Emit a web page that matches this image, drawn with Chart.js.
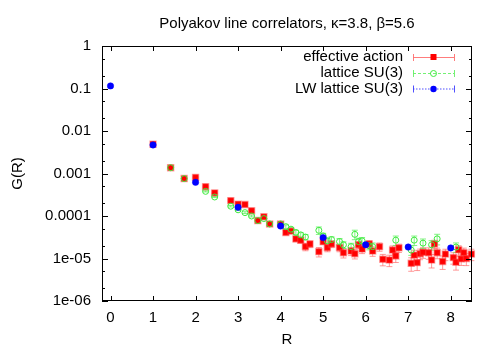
<!DOCTYPE html>
<html>
<head>
<meta charset="utf-8">
<script src="https://cdn.jsdelivr.net/npm/chart.js@4/dist/chart.umd.min.js"></script>
<style>
html, body { margin: 0; padding: 0; background: #fff; }
</style>
</head>
<body>
<canvas id="corrChart" width="500" height="350"></canvas>
<script>
// effective action (red squares), G(R) and relative errors
const effR = [1.0, 1.414, 1.732, 2.0, 2.236, 2.449, 2.828, 3.0, 3.162, 3.317, 3.464, 3.606, 3.742, 4.0,
  4.123, 4.243, 4.359, 4.472, 4.583, 4.69, 4.899, 5.0, 5.099, 5.196, 5.385, 5.477, 5.657, 5.745, 5.831, 5.916,
  6.083, 6.164, 6.325, 6.403, 6.557, 6.633, 6.708, 6.782, 7.071, 7.141, 7.211, 7.28, 7.348, 7.483, 7.55, 7.616,
  7.681, 7.81, 7.874, 8.062, 8.124, 8.185, 8.246, 8.307, 8.367, 8.485];
const effG = [4.9e-3, 1.37e-3, 7.6e-4, 8.1e-4, 4.9e-4, 3.5e-4, 2.3e-4, 1.9e-4, 1.86e-4, 1.33e-4, 7.8e-5, 9.6e-5, 6.5e-5, 6.5e-5,
  4.1e-5, 4.4e-5, 2.9e-5, 2.7e-5, 1.9e-5, 2.2e-5, 1.45e-5, 2.5e-5, 1.8e-5, 2.2e-5, 1.8e-5, 1.37e-5, 1.5e-5, 1.3e-5, 2.1e-5, 1.67e-5,
  2.2e-5, 1.5e-5, 1.9e-5, 9.6e-6, 9.2e-6, 1.58e-5, 1.15e-5, 1.78e-5, 7.7e-6, 1.2e-5, 8.0e-6, 1.3e-5, 1.4e-5, 1.37e-5, 9.2e-6, 2.2e-5,
  1.37e-5, 8.5e-6, 1.27e-5, 1.05e-5, 8.2e-6, 1.6e-5, 9.8e-6, 1.37e-5, 1.0e-5, 1.27e-5];
const effErr = [0.02, 0.02, 0.03, 0.03, 0.03, 0.04, 0.05, 0.05, 0.06, 0.06, 0.08, 0.08, 0.1, 0.1,
  0.12, 0.12, 0.15, 0.15, 0.2, 0.18, 0.25, 0.15, 0.2, 0.18, 0.2, 0.25, 0.22, 0.25, 0.18, 0.22,
  0.2, 0.25, 0.22, 0.3, 0.3, 0.25, 0.3, 0.22, 0.35, 0.3, 0.35, 0.28, 0.28, 0.3, 0.35, 0.22,
  0.28, 0.35, 0.3, 0.3, 0.35, 0.25, 0.3, 0.28, 0.32, 0.3];

// lattice SU(3) (green open circles)
const latR = [1.414, 1.732, 2.236, 2.449, 2.828, 3.0, 3.162, 3.317, 3.464, 3.606, 3.742, 4.0, 4.123, 4.243, 4.359,
  4.472, 4.583, 4.899, 5.0, 5.099, 5.196, 5.385, 5.477, 5.657, 5.745, 5.831, 5.916, 6.083, 6.164, 6.708, 7.071,
  7.141, 7.348, 7.55, 7.681, 8.124];
const latG = [1.37e-3, 7.6e-4, 3.8e-4, 2.8e-4, 1.7e-4, 1.4e-4, 1.2e-4, 1.0e-4, 7.8e-5, 8.7e-5, 6.5e-5, 6.5e-5, 5.6e-5, 4.9e-5, 4.1e-5,
  3.6e-5, 3.2e-5, 4.6e-5, 3.4e-5, 2.6e-5, 2.8e-5, 2.5e-5, 2.1e-5, 1.9e-5, 3.7e-5, 2.5e-5, 2.6e-5, 2.0e-5, 1.9e-5, 2.7e-5, 1.58e-5,
  2.7e-5, 2.3e-5, 2.1e-5, 2.9e-5, 1.86e-5];
const latErr = [0.02, 0.02, 0.03, 0.03, 0.04, 0.04, 0.05, 0.05, 0.06, 0.06, 0.08, 0.08, 0.1, 0.1, 0.12,
  0.12, 0.14, 0.2, 0.15, 0.15, 0.15, 0.18, 0.18, 0.2, 0.25, 0.2, 0.2, 0.2, 0.22, 0.25, 0.25,
  0.25, 0.25, 0.25, 0.28, 0.25];

// LW lattice SU(3) (blue filled circles)
const lwR = [0, 1, 2, 3, 4, 5, 6, 7, 8];
const lwG = [0.115, 4.7e-3, 6.2e-4, 1.6e-4, 5.8e-5, 3.1e-5, 2.1e-5, 1.86e-5, 1.77e-5];

const xTicks = [0, 1, 2, 3, 4, 5, 6, 7, 8];
const yTickValues = [1e-6, 1e-5, 1e-4, 1e-3, 1e-2, 1e-1, 1];
const yTickLabels = ['1e-06', '1e-05', '0.0001', '0.001', '0.01', '0.1', '1'];
const yMinorTicks = [2e-6, 5e-6, 2e-5, 5e-5, 2e-4, 5e-4, 2e-3, 5e-3, 2e-2, 5e-2, 0.2, 0.5];

const seriesNames = ['effective action', 'lattice SU(3)', 'LW lattice SU(3)'];
const chartTitle = 'Polyakov line correlators, κ=3.8, β=5.6';
const FONT = "'Liberation Sans', Arial, sans-serif";
const GREEN = '#3dea3d';

function toPoints(xs, ys) {
    return xs.map((x, i) => ({ x: x, y: ys[i] }));
}

const gnuplotDecor = {
    id: 'gnuplotDecor',
    beforeDatasetsDraw(chart) {
        const ctx = chart.ctx;
        const xs = chart.scales.x, ys = chart.scales.y;
        const bars = [
            { r: effR, g: effG, e: effErr, color: 'rgba(255,110,110,0.7)' },
            { r: latR, g: latG, e: latErr, color: 'rgba(100,240,100,0.8)' }
        ];
        ctx.save();
        ctx.lineWidth = 1;
        bars.forEach(b => {
            ctx.strokeStyle = b.color;
            b.r.forEach((r, i) => {
                const px = xs.getPixelForValue(r);
                const y1 = ys.getPixelForValue(b.g[i] * (1 + b.e[i]));
                const y2 = ys.getPixelForValue(b.g[i] * (1 - b.e[i]));
                ctx.beginPath();
                ctx.moveTo(px, y1); ctx.lineTo(px, y2);
                ctx.moveTo(px - 3, y1); ctx.lineTo(px + 3, y1);
                ctx.moveTo(px - 3, y2); ctx.lineTo(px + 3, y2);
                ctx.stroke();
            });
        });
        ctx.restore();
    },
    afterDraw(chart) {
        const ctx = chart.ctx;
        const a = chart.chartArea;
        const xs = chart.scales.x, ys = chart.scales.y;
        ctx.save();
        ctx.strokeStyle = '#000';
        ctx.lineWidth = 1;
        ctx.strokeRect(a.left + 0.5, a.top + 0.5, a.right - a.left - 1, a.bottom - a.top - 1);
        ctx.beginPath();
        xTicks.forEach(v => {
            const px = Math.round(xs.getPixelForValue(v)) + 0.5;
            ctx.moveTo(px, a.bottom); ctx.lineTo(px, a.bottom - 5);
            ctx.moveTo(px, a.top); ctx.lineTo(px, a.top + 5);
        });
        yTickValues.forEach(v => {
            const py = Math.round(ys.getPixelForValue(v)) + 0.5;
            ctx.moveTo(a.left, py); ctx.lineTo(a.left + 6, py);
            ctx.moveTo(a.right, py); ctx.lineTo(a.right - 6, py);
        });
        yMinorTicks.forEach(v => {
            const py = Math.round(ys.getPixelForValue(v)) + 0.5;
            ctx.moveTo(a.left, py); ctx.lineTo(a.left + 3, py);
            ctx.moveTo(a.right, py); ctx.lineTo(a.right - 3, py);
        });
        ctx.stroke();

        // title and axis titles
        ctx.fillStyle = '#000';
        ctx.font = '15px ' + FONT;
        ctx.textAlign = 'center';
        ctx.textBaseline = 'middle';
        ctx.fillText(chartTitle, (a.left + a.right) / 2, 24);
        ctx.fillText('R', (a.left + a.right) / 2, 340);
        ctx.save();
        ctx.translate(18, (a.top + a.bottom) / 2);
        ctx.rotate(-Math.PI / 2);
        ctx.fillText('G(R)', 0, 0);
        ctx.restore();

        // key, gnuplot style
        const rows = [57, 73, 88.5];
        const lineCol = ['rgba(255,110,110,0.9)', 'rgba(100,240,100,0.9)', 'rgba(60,60,255,0.9)'];
        const dashes = [[], [3, 2], [1.5, 1.5]];
        const x0 = 413, x1 = 454, xm = 433.5;
        ctx.textAlign = 'right';
        rows.forEach((ry, i) => {
            ctx.fillStyle = '#000';
            ctx.fillText(seriesNames[i], 403, ry);
            ctx.strokeStyle = lineCol[i];
            ctx.setLineDash(dashes[i]);
            ctx.beginPath();
            ctx.moveTo(x0, ry + 0.5); ctx.lineTo(x1, ry + 0.5);
            ctx.stroke();
            ctx.setLineDash([]);
            ctx.beginPath();
            ctx.moveTo(x0 + 0.5, ry - 3); ctx.lineTo(x0 + 0.5, ry + 4);
            ctx.moveTo(x1 + 0.5, ry - 3); ctx.lineTo(x1 + 0.5, ry + 4);
            ctx.stroke();
        });
        // key markers
        ctx.fillStyle = '#ff0000';
        ctx.fillRect(xm - 3, rows[0] - 3, 6, 6);
        ctx.strokeStyle = GREEN;
        ctx.beginPath();
        ctx.arc(xm, rows[1] + 0.5, 3, 0, Math.PI * 2);
        ctx.stroke();
        ctx.fillStyle = '#0000ff';
        ctx.beginPath();
        ctx.arc(xm, rows[2] + 0.5, 3.2, 0, Math.PI * 2);
        ctx.fill();
        ctx.restore();
    }
};

const ctx = document.getElementById('corrChart').getContext('2d');
const corrChart = new Chart(ctx, {
    type: 'scatter',
    data: {
        datasets: [
            {
                label: seriesNames[2],
                data: toPoints(lwR, lwG),
                pointStyle: 'circle',
                pointRadius: 3.2,
                backgroundColor: '#0000ff',
                borderColor: '#0000ff',
                borderWidth: 0.5,
                clip: false
            },
            {
                label: seriesNames[1],
                data: toPoints(latR, latG),
                pointStyle: 'circle',
                pointRadius: 3,
                backgroundColor: 'rgba(0,0,0,0)',
                borderColor: GREEN,
                borderWidth: 1,
                clip: false
            },
            {
                label: seriesNames[0],
                data: toPoints(effR, effG),
                pointStyle: 'rect',
                pointRadius: 4.2,
                backgroundColor: '#ff0000',
                borderColor: 'rgba(255,60,60,0.45)',
                borderWidth: 1.5,
                clip: false
            }
        ]
    },
    options: {
        responsive: false,
        animation: false,
        events: [],
        layout: { padding: { top: 46, right: 28, left: 0, bottom: 0 } },
        plugins: {
            legend: { display: false },
            title: { display: false },
            tooltip: { enabled: false }
        },
        scales: {
            x: {
                type: 'linear',
                min: -0.2,
                max: 8.5,
                grid: { display: false, drawTicks: false },
                border: { display: false },
                afterBuildTicks: scale => { scale.ticks = xTicks.map(v => ({ value: v })); },
                afterFit: scale => { scale.height = 49; },
                ticks: {
                    color: '#000',
                    padding: 8,
                    autoSkip: false,
                    maxRotation: 0,
                    font: { family: FONT, size: 15 }
                }
            },
            y: {
                type: 'logarithmic',
                min: 1e-6,
                max: 1,
                grid: { display: false, drawTicks: false },
                border: { display: false },
                afterBuildTicks: scale => {
                    scale.ticks = yTickValues.map(v => ({ value: v, major: true }));
                },
                afterFit: scale => { scale.width = 102; },
                ticks: {
                    color: '#000',
                    padding: 11,
                    autoSkip: false,
                    font: { family: FONT, size: 15 },
                    callback: v => {
                        const i = yTickValues.indexOf(v);
                        return i >= 0 ? yTickLabels[i] : '';
                    }
                }
            }
        }
    },
    plugins: [gnuplotDecor]
});
</script>
</body>
</html>
